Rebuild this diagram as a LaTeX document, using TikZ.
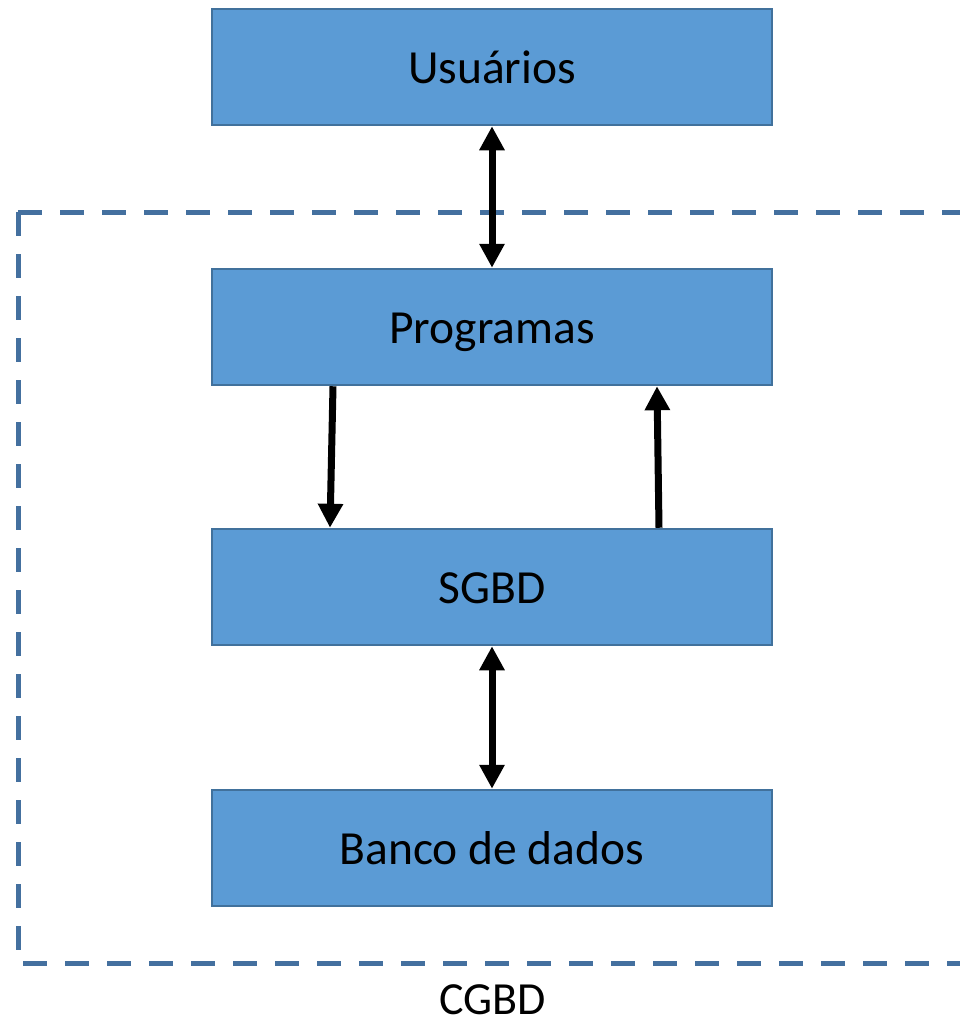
\documentclass[tikz,border=0pt]{standalone}
\usepackage{fontspec}
\setmainfont{Carlito}
\usetikzlibrary{arrows.meta}
\definecolor{boxfill}{HTML}{5B9BD5}
\definecolor{boxline}{HTML}{41719C}
\definecolor{dashcol}{HTML}{44709F}
\tikzset{
  layer/.style={draw=boxline, line width=2.5pt, fill=boxfill, minimum width=560pt, minimum height=116pt, inner sep=0pt, text height=32pt, text depth=0pt, font=\fontsize{47.5}{56}\selectfont, text=black},
  flow/.style={line width=7pt, -{Triangle[width=24pt,length=24pt]}},
  bothflow/.style={line width=7pt, {Triangle[width=24pt,length=24pt]}-{Triangle[width=24pt,length=24pt]}},
  boundary/.style={draw=dashcol, line width=5pt, dash pattern=on 24pt off 18pt},
}
\begin{document}
\begin{tikzpicture}[x=1pt,y=-1pt]
\useasboundingbox (0,0) rectangle (960,1023);
\begin{scope}
\clip (0,0) rectangle (960,1023);
\coordinate (c1) at (1000,212);
\coordinate (c2) at (18,212);
\coordinate (c3) at (18,963);
\coordinate (c4) at (1000,963);
\draw[boundary] (c2) -- (c1);
\draw[boundary] (c2) -- (c3) -- (c4);
\end{scope}
\node[layer] (u) at (492,67) {Usuários};
\node[layer] (p) at (492,327) {Programas};
\node[layer] (s) at (492,587) {SGBD};
\node[layer] (b) at (492,848) {Banco de dados};
\node[font=\fontsize{46}{54}\selectfont, anchor=base, inner sep=0pt] (cg) at (492.5,1014) {CGBD};
\draw[bothflow] (u.south) -- (p.north);
\draw[flow] ([xshift=-159pt]p.south) -- ([xshift=-162pt]s.north);
\draw[flow] ([xshift=167pt]s.north) -- ([xshift=165pt]p.south);
\draw[bothflow] (s.south) -- (b.north);
\end{tikzpicture}
\end{document}
